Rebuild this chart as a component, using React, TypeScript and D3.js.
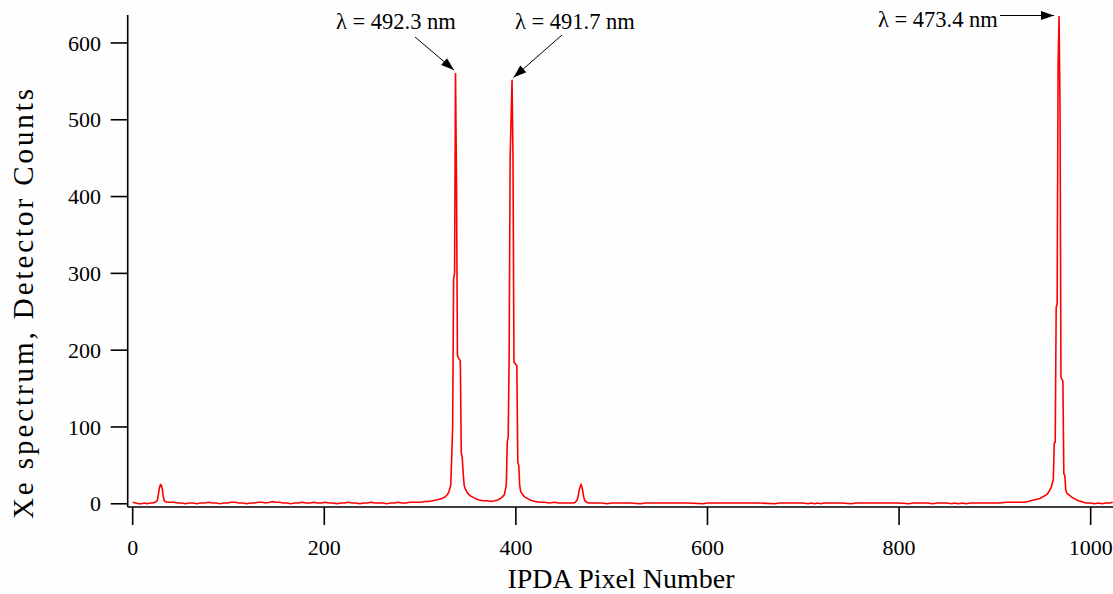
import React from "react";
import * as d3 from "d3";

// ---- data ----
const pixels = [
  0, 3, 6, 9, 12, 15, 18, 21, 23, 25, 26, 27, 28, 29, 30, 31, 32, 33, 34, 36, 39, 43, 47, 51, 55, 59, 63, 67, 71, 75, 79, 83, 87, 91, 95, 99,
  103, 107, 111, 115, 119, 123, 127, 131, 135, 139, 143, 146, 149, 153, 157, 161, 165, 169, 173, 177, 181, 185, 189, 193, 197,
  201, 205, 209, 213, 217, 221, 225, 229, 233, 237, 241, 245, 249, 253, 257, 261, 265, 269, 273, 277, 281, 285, 289, 293, 297,
  301, 305, 309, 313, 317, 320, 323, 326, 328, 330, 331,
  332, 333, 334, 335, 336, 337, 338, 339, 340, 341, 342, 343, 344, 345, 346, 347, 349, 351, 353, 356, 359, 362, 366, 370, 374, 378, 381, 384, 386, 388, 389, 390,
  391, 392, 393, 394, 395, 396, 397, 398, 399, 400, 401, 402, 403, 404, 405, 407, 409, 412, 415, 420, 425, 430, 435, 440, 445, 450, 455, 460,
  462, 464, 465, 466, 467, 468, 469, 470, 471, 472, 474, 476,
  480, 485, 490, 495, 500, 510, 520, 530, 535, 550, 565, 580, 595, 600, 610, 625, 640, 655, 670, 675, 690, 700, 705, 708, 712, 715, 718, 722,
  730, 740, 750, 755, 770, 785, 800, 810, 815, 830, 835, 840, 850, 855, 858, 862, 866, 870, 875, 885, 895, 905, 912, 918, 925, 930,
  935, 940, 944, 947, 950, 953, 955, 957, 959, 960, 961, 962, 963, 964, 965, 966, 967, 968, 969, 970, 971, 972, 973, 974, 975, 977, 979, 981,
  984, 987, 990, 995, 1000, 1004, 1008, 1012, 1016, 1020, 1023,
];
const counts = [
  2, 1, 0, 0, 1, 0, 1, 1, 2, 3, 6, 14, 21, 25, 24, 19, 9, 4, 3, 2, 2, 2, 1, 1, 0, 1, 1, 0, 1, 1, 2, 1, 1, 0, 1, 1,
  2, 2, 1, 1, 0, 1, 1, 2, 2, 1, 2, 3, 2, 2, 1, 1, 0, 1, 1, 2, 1, 1, 2, 1, 1,
  2, 1, 1, 0, 1, 1, 2, 1, 1, 0, 1, 1, 2, 1, 1, 1, 0, 1, 1, 2, 1, 1, 2, 2, 2,
  2, 3, 3, 4, 5, 6, 7, 9, 11, 15, 20,
  24, 60, 100, 293, 300, 561, 420, 193, 190, 188, 186, 67, 60, 40, 24, 20, 15, 12, 10, 8, 6, 5, 4, 4, 3, 4, 5, 7, 9, 12, 18, 24,
  80, 87, 196, 449, 501, 552, 449, 185, 183, 181, 180, 54, 50, 24, 16, 12, 9, 7, 5, 3, 2, 2, 1, 2, 1, 1, 1, 1,
  2, 5, 10, 17, 22, 25, 22, 15, 8, 4, 2, 1,
  1, 1, 1, 0, 1, 1, 1, 0, 1, 1, 1, 1, 0, 1, 1, 1, 1, 1, 0, 1, 1, 1, 0, 1, 0, 1, 0, 1,
  1, 1, 0, 1, 1, 1, 1, 0, 1, 1, 0, 1, 1, 0, 1, 0, 1, 0, 1, 1, 1, 1, 2, 2, 2, 2,
  3, 5, 6, 7, 9, 11, 13, 17, 22, 27, 31, 79, 80, 256, 260, 569, 635, 517, 165, 162, 160, 39, 37, 18, 14, 12, 10, 8,
  6, 4, 3, 1, 1, 0, 1, 0, 1, 1, 2,
];
const xTicks = [0, 200, 400, 600, 800, 1000];
const yTicks = [0, 100, 200, 300, 400, 500, 600];
const annotationLabels = ["λ = 492.3 nm", "λ = 491.7 nm", "λ = 473.4 nm"];
const xTitle = "IPDA Pixel Number";
const yTitle = "Xe spectrum, Detector Counts";

const W = 1113;
const H = 594;
const FONT = "'Liberation Serif', 'Times New Roman', serif";

function arrowHead(x1: number, y1: number, x2: number, y2: number, len = 13, half = 4.5) {
  const dx = x2 - x1;
  const dy = y2 - y1;
  const d = Math.hypot(dx, dy);
  const ux = dx / d;
  const uy = dy / d;
  const bx = x2 - ux * len;
  const by = y2 - uy * len;
  const px = -uy * half;
  const py = ux * half;
  return `M${x2},${y2}L${bx + px},${by + py}L${bx - px},${by - py}Z`;
}

export default function App() {
  const x = d3.scaleLinear().domain([-5.2, 1023]).range([127.7, 1112.7]);
  const y = d3.scaleLinear().domain([-4.2, 636.4]).range([507, 15]);
  const pts: [number, number][] = pixels.map((p, i) => [p, counts[i]]);
  const line = d3
    .line<[number, number]>()
    .x((d) => x(d[0]))
    .y((d) => y(d[1]));

  const x0 = x.range()[0];
  const yBase = y.range()[0];

  // annotation geometry
  const arrows = [
    { tx: 336, ty: 29, x1: 415, y1: 37, x2: 454, y2: 70 },
    { tx: 515, ty: 29, x1: 562, y1: 35, x2: 513.5, y2: 77.5 },
    { tx: 878, ty: 27, x1: 1000, y1: 15.5, x2: 1054, y2: 15.5 },
  ];

  return (
    <svg
      width={W}
      height={H}
      style={{ position: "absolute", left: 0, top: 0, background: "#ffffff" }}
    >
      <rect x={0} y={0} width={W} height={H} fill="#fefefe" />
      {/* spectrum */}
      <path d={line(pts) || ""} fill="none" stroke="#ff0000" strokeWidth={1.6} strokeLinejoin="miter" />

      {/* axes */}
      <line x1={x0} y1={15} x2={x0} y2={yBase} stroke="#000" strokeWidth={1.6} />
      <line x1={x0} y1={yBase} x2={W} y2={yBase} stroke="#000" strokeWidth={1.6} />
      {yTicks.map((t) => (
        <g key={"y" + t}>
          <line x1={x0 - 17} x2={x0} y1={y(t)} y2={y(t)} stroke="#000" strokeWidth={1.6} />
          <text
            x={101}
            y={y(t)}
            dy="0.35em"
            textAnchor="end"
            fontFamily={FONT}
            fontSize={22}
            fill="#000"
          >
            {t}
          </text>
        </g>
      ))}
      {xTicks.map((t) => (
        <g key={"x" + t}>
          <line x1={x(t)} x2={x(t)} y1={yBase} y2={yBase + 18} stroke="#000" strokeWidth={1.6} />
          <text x={x(t)} y={555} textAnchor="middle" fontFamily={FONT} fontSize={22} fill="#000">
            {t}
          </text>
        </g>
      ))}

      {/* titles */}
      <text x={621} y={588} textAnchor="middle" fontFamily={FONT} fontSize={28} fill="#000">
        {xTitle}
      </text>
      <text
        transform={`translate(33,304) rotate(-90)`}
        textAnchor="middle"
        fontFamily={FONT}
        fontSize={29}
        textLength={430}
        lengthAdjust="spacing"
        fill="#000"
      >
        {yTitle}
      </text>

      {/* annotations */}
      {arrows.map((a, i) => (
        <g key={"a" + i}>
          <text x={a.tx} y={a.ty} fontFamily={FONT} fontSize={22.5} fill="#000">
            {annotationLabels[i]}
          </text>
          <line x1={a.x1} y1={a.y1} x2={a.x2} y2={a.y2} stroke="#000" strokeWidth={1} />
          <path d={arrowHead(a.x1, a.y1, a.x2, a.y2)} fill="#000" />
        </g>
      ))}
    </svg>
  );
}
